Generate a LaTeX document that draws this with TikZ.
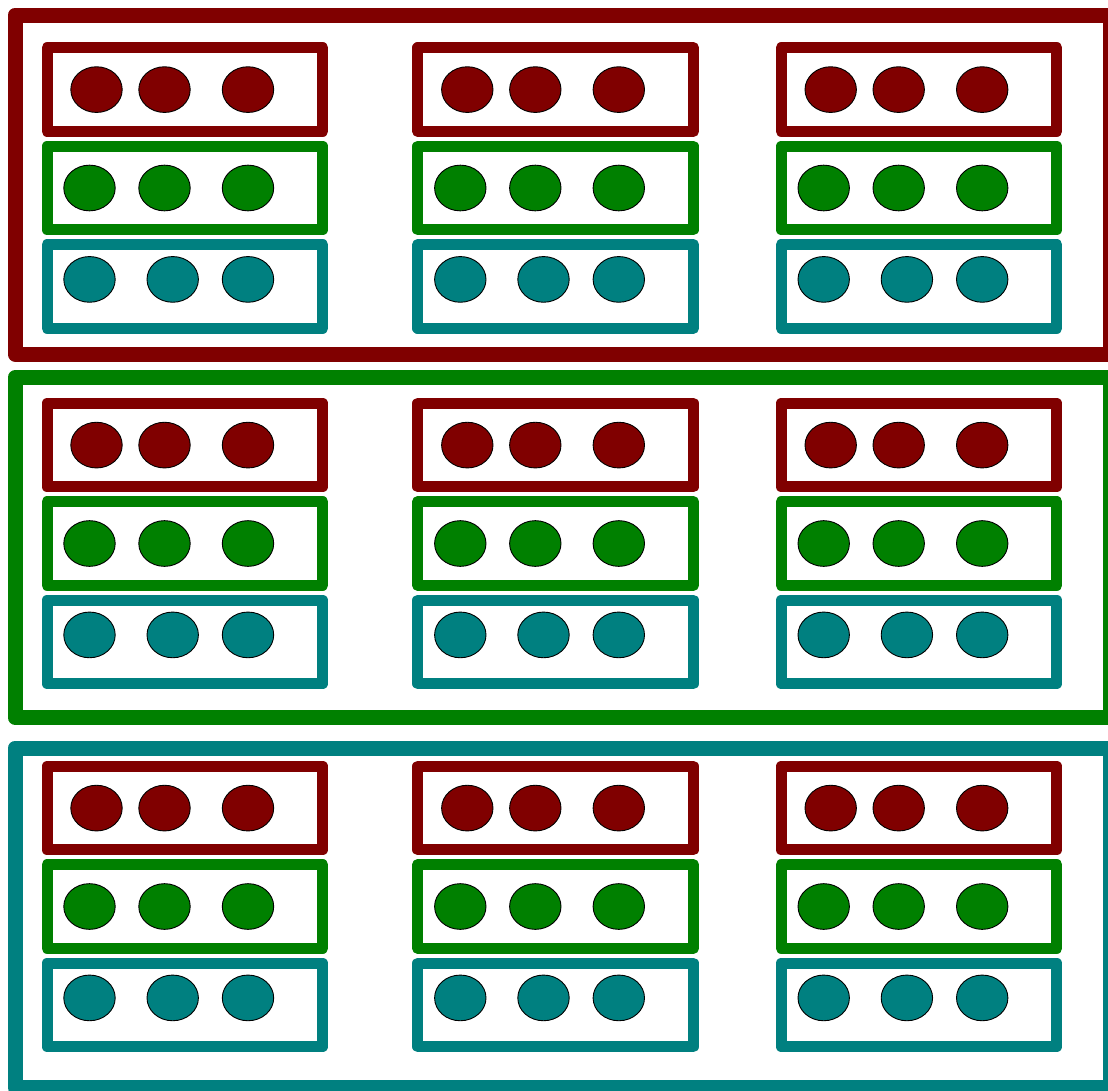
\documentclass[tikz,border=0pt]{standalone}
\usetikzlibrary{shapes.geometric}
\definecolor{cmaroon}{RGB}{128,0,0}
\definecolor{cgreen}{RGB}{0,128,0}
\definecolor{cteal}{RGB}{0,128,128}
\tikzset{
  outerbox/.style={draw=#1, line width=15pt, line join=round, rectangle, inner sep=0pt, outer sep=0pt, anchor=north west},
  innerbox/.style={draw=#1, line width=11pt, line join=round, rectangle, inner sep=0pt, outer sep=0pt,
    minimum width=275.7pt, minimum height=83.6pt, anchor=north west},
  dot/.style={ellipse, draw=black, line width=0.9pt, fill=#1, inner sep=0pt, outer sep=0pt,
    minimum width=51.4pt, minimum height=45.7pt}
}
\begin{document}
\begin{tikzpicture}[x=1pt,y=-1pt]
\useasboundingbox (0,0) rectangle (1108,1090);
% outer boxes
\node[outerbox=cmaroon, minimum width=1095.8pt, minimum height=339pt] (O1) at (15,15) {};
\node[outerbox=cgreen, minimum width=1095.8pt, minimum height=340pt] (O2) at (15,377.5) {};
\node[outerbox=cteal, minimum width=1095.8pt, minimum height=339.5pt] (O3) at (15,748) {};
% inner boxes and dots
\foreach \b/\top in {1/47.8, 2/403.3, 3/766.3} {
  \foreach \c/\left in {1/47, 2/417.8, 3/781.2} {
    % maroon row
    \node[innerbox=cmaroon] (B\b\c r) at (\left,\top) {};
    \node[dot=cmaroon] (D\b\c r1) at (\left+49.5,\top+41.8) {};
    \node[dot=cmaroon] (D\b\c r2) at (\left+117.5,\top+41.8) {};
    \node[dot=cmaroon] (D\b\c r3) at (\left+201,\top+41.8) {};
    % green row
    \node[innerbox=cgreen] (B\b\c g) at (\left,\top+98.4) {};
    \node[dot=cgreen] (D\b\c g1) at (\left+42.5,\top+98.4+41.8) {};
    \node[dot=cgreen] (D\b\c g2) at (\left+117.5,\top+98.4+41.8) {};
    \node[dot=cgreen] (D\b\c g3) at (\left+201,\top+98.4+41.8) {};
    % teal row
    \node[innerbox=cteal] (B\b\c t) at (\left,\top+196.8) {};
    \node[dot=cteal] (D\b\c t1) at (\left+42.5,\top+196.8+34.8) {};
    \node[dot=cteal] (D\b\c t2) at (\left+125.7,\top+196.8+34.8) {};
    \node[dot=cteal] (D\b\c t3) at (\left+201,\top+196.8+34.8) {};
  }
}
\end{tikzpicture}
\end{document}
